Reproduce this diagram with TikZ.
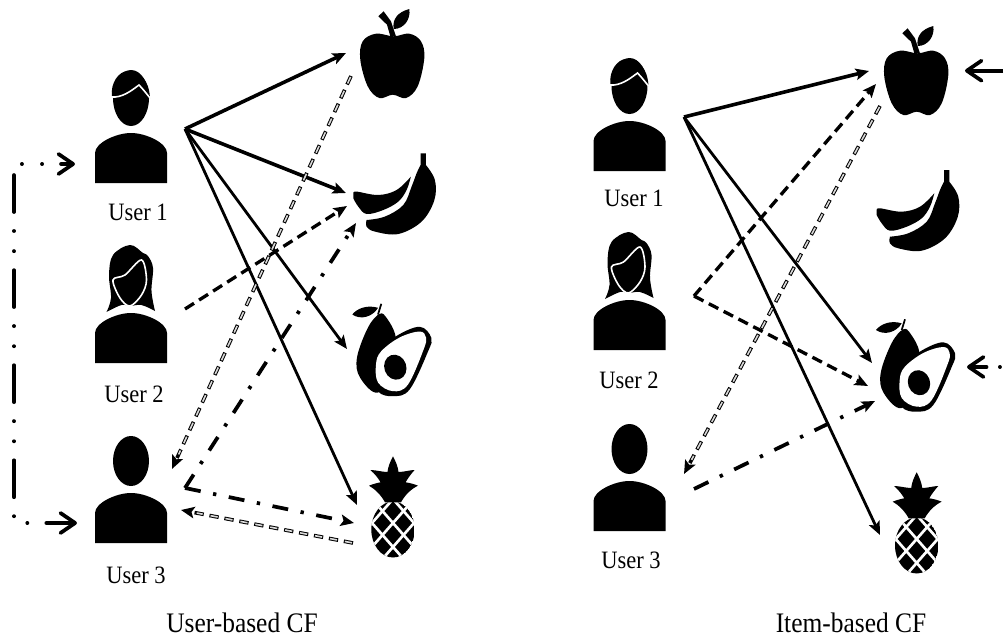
\documentclass[tikz,border=0pt]{standalone}
\usepackage{fontspec}
\setmainfont{Liberation Serif}
\newfontfamily\capfont[FakeStretch=0.9]{Liberation Serif}
\usetikzlibrary{arrows.meta}

\begin{document}
\begin{tikzpicture}[
  x=0.75pt, y=-0.75pt,
  userlabel/.style={anchor=base, inner sep=0pt, font=\capfont\fontsize{18.75}{20}\selectfont},
  caption/.style={anchor=base, inner sep=0pt, font=\capfont\fontsize{21.2}{24}\selectfont},
  solidtip/.style={-{Stealth[length=10pt,width=8.5pt,inset=2pt]}},
  thickarrow/.style={solidtip, line width=2.7pt},
  thinarrow/.style={solidtip, line width=2.1pt},
  dasharrow/.style={solidtip, line width=2.5pt, dash pattern=on 8pt off 4.5pt},
  dotarrow/.style={solidtip, line width=2.8pt, dash pattern=on 12pt off 9.5pt on 2.5pt off 9.5pt},
  hollowarrow/.style={preaction={draw=black, solidtip, line width=2.7pt, shorten >=0pt, dash pattern=on 7pt off 4.4pt, dash phase=0pt},
    draw=white!85!black, line width=1.2pt, shorten >=12pt, dash pattern=on 5.4pt off 6pt, dash phase=10.6pt},
  chevron/.style={-{Straight Barb[length=11pt,width=15pt,round]}, line width=2.8pt},
  loopline/.style={{Straight Barb[length=11pt,width=15pt,round]}-{Straight Barb[length=11pt,width=15pt,round]}, line width=2.8pt, line cap=round,
    dash pattern=on 27.7pt off 14.2pt on 0.1pt off 15pt on 0.1pt off 14.2pt, dash phase=7.5pt},
  usermale/.pic={
    \fill (-36,0) -- (-36,-30) .. controls (-36,-40) and (-15,-50) .. (0,-50) .. controls (15,-50) and (36,-40) .. (36,-30) -- (36,0) -- cycle;
    \fill (0,-85) ellipse [x radius=18, y radius=28];
    \fill (-19,-86) .. controls (-21,-100) and (-12,-112) .. (-3,-112) .. controls (8,-112) and (18,-104) .. (19,-85) -- cycle;
    \draw[white, line width=1.2pt] (-20,-86) .. controls (-9,-85) and (0,-92) .. (8,-98) .. controls (11,-95) and (15,-90) .. (19,-85);
  },
  userfemale/.pic={
    \fill (-36,0) -- (-36,-30) .. controls (-36,-40) and (-15,-50) .. (0,-50) .. controls (15,-50) and (36,-40) .. (36,-30) -- (36,0) -- cycle;
    \fill plot[smooth, tension=.6] coordinates {(-24.5,-51) (-20,-65) (-22,-88) (-18,-108) (-1,-118) (12,-110) (17,-107) (22,-95) (20.5,-72) (24,-52)}
      -- plot[smooth, tension=.6] coordinates {(24,-52) (10.5,-58) (-1,-57) (-9.5,-58) (-24.5,-51)} -- cycle;
    \draw[white, line width=1.2pt] plot[smooth cycle, tension=.55] coordinates {(-18,-83) (-6,-88) (10.5,-103) (15.5,-83) (10.5,-68) (-1,-57) (-11,-65)};
  },
  useranon/.pic={
    \fill (-36,0) -- (-36,-30) .. controls (-36,-40) and (-15,-50) .. (0,-50) .. controls (15,-50) and (36,-40) .. (36,-30) -- (36,0) -- cycle;
    \fill (0,-82) ellipse [x radius=18, y radius=25];
  },
  appleicon/.pic={
    \fill plot[smooth cycle, tension=.6] coordinates {(0.7,-60.7) (-17,-63.3) (-30.3,-55.7) (-32.7,-37.3) (-25.3,-10.7) (-13.7,1) (-0.3,-2.3) (13,1) (24.7,-10.7) (31.3,-39) (28,-55.7) (16.3,-63.3)};
    \fill (-14.7,-80.7) -- (-9.4,-85.7) -- (-2,-75.7) -- (3,-60.7) -- (-2.7,-60.7) -- (-6,-72.3) -- cycle;
    \fill (0.7,-68) .. controls (-1,-78) and (5,-85) .. (16.3,-88) .. controls (18,-78) and (11,-68) .. (0.7,-68) -- cycle;
  },
  bananaicon/.pic={
    \fill (27.3,-80) -- (32.6,-80) -- (32.6,-68.3) -- plot[smooth, tension=.6] coordinates {(32.6,-68.3) (41.6,-53.3) (41,-33) (28.3,-11.7) (5,0.7) (-18.4,-1.7) (-26.7,-6.7) (-26.7,-13.3)}
      -- plot[smooth, tension=.6] coordinates {(-26.7,-13.3) (-8.4,-16.7) (10,-28.3) (18.3,-46.7) (23.3,-60) (27.3,-68.3)} -- cycle;
    \fill plot[smooth, tension=.6] coordinates {(-40,-40) (-36.7,-41.7) (-15,-38.3) (3.3,-43.3) (17.6,-56.7)}
      -- plot[smooth, tension=.6] coordinates {(17.6,-56.7) (13.3,-43.3) (5,-31.7) (-10,-23.3) (-26.7,-19.3) (-35,-26.7) (-40,-35)} -- cycle;
  },
  avocadoicon/.pic={
    \fill plot[smooth cycle, tension=.6] coordinates {(-13.4,-80.7) (-25,-67) (-36,-37) (-33,-17) (-15,-2) (2,-30) (2.6,-58) (-6,-76)};
    \draw[line width=1.3pt] (-11.7,-90.7) -- (-15,-80);
    \fill (-40.7,-80) .. controls (-36,-86) and (-26,-90) .. (-15,-86.7) .. controls (-20,-78) and (-32,-74) .. (-40.7,-80) -- cycle;
    \fill plot[smooth cycle, tension=.6] coordinates {(26.6,-67.7) (38.3,-56.7) (35,-43) (16.6,-5) (0,1.7) (-15,-3) (-20.7,-21.7) (-18,-40) (2.6,-58)};
    \fill[white] plot[smooth cycle, tension=.6] coordinates {(26.6,-63) (33,-57) (30.6,-45) (15,-10) (0,-3.3) (-15,-12) (-17,-30) (-12,-43) (6.6,-57)};
    \fill[rotate around={20:(2.3,-27.3)}] (2.3,-27.3) ellipse [x radius=11, y radius=12.7];
  },
  pineappleicon/.pic={
    \begin{scope}
      \clip (0,-27.5) ellipse [x radius=21.7, y radius=28];
      \fill (0,-27.5) ellipse [x radius=21.7, y radius=28];
      \foreach \d in {-3,...,3} {
        \draw[white, line width=2pt] (21*\d-30,-34-34.2) -- (21*\d+30,-34+34.2);
        \draw[white, line width=2pt] (21*\d+30,-34-34.2) -- (21*\d-30,-34+34.2);
      }
    \end{scope}
    \fill (0,-100.7) .. controls (3,-95) and (5,-90) .. (5.5,-85) .. controls (11,-85) and (17,-87) .. (21.6,-87)
      .. controls (18,-83) and (15,-79) .. (12.6,-74.7) .. controls (17,-74) and (21,-73) .. (25,-71.3)
      .. controls (18,-68) and (12,-62) .. (8,-54.7) -- (-8,-54.7) .. controls (-12,-62) and (-18,-68) .. (-24,-71.3)
      .. controls (-20,-73) and (-16,-74) .. (-12.4,-74.7) .. controls (-15,-79) and (-18,-83) .. (-22.7,-87)
      .. controls (-17,-87) and (-11,-85) .. (-5.5,-85) .. controls (-5,-90) and (-3,-95) .. (0,-100.7) -- cycle;
  }
]
  % Users, left
  \pic (lu1) at (131,183) {usermale};
  \pic (lu2) at (131,363) {userfemale};
  \pic (lu3) at (131,543) {useranon};
  \node[userlabel] (lu1text) at (138,220.7) {User 1};
  \node[userlabel] (lu2text) at (134,402.7) {User 2};
  \node[userlabel] (lu3text) at (136,583) {User 3};

  % Items, left
  \pic (lapple) at (393,97) {appleicon};
  \pic (lbanana) at (393.3,233.3) {bananaicon};
  \pic (lavocado) at (393,394.5) {avocadoicon};
  \pic (lpine) at (393,557) {pineappleicon};
  \node[caption] (lcaption) at (242,632) {User-based CF};

  % Users, right
  \pic (ru1) at (629.5,171) {usermale};
  \pic (ru2) at (629.5,350) {userfemale};
  \pic (ru3) at (629.5,531) {useranon};
  \node[userlabel] (ru1text) at (634,206.7) {User 1};
  \node[userlabel] (ru2text) at (629,388) {User 2};
  \node[userlabel] (ru3text) at (631,568) {User 3};

  % Items, right
  \pic (rapple) at (917,114) {appleicon};
  \pic (rbanana) at (916.7,250) {bananaicon};
  \pic (ravocado) at (916.7,410) {avocadoicon};
  \pic (rpine) at (916.7,573) {pineappleicon};
  \node[caption] (rcaption) at (851,632) {Item-based CF};

  % Connector ends, left
  \coordinate (lu1out) at (185,129);
  \coordinate (lu2out) at (185,309);
  \coordinate (lu3corner) at (185,488);
  \coordinate (lu3in) at (172,469);
  \coordinate (lu3low) at (181,510);
  \coordinate (lappleIn) at (346,53);
  \coordinate (lappleOut) at (351,76);
  \coordinate (lbananaA) at (346,193);
  \coordinate (lbananaB) at (347,206);
  \coordinate (lbananaC) at (356,223);
  \coordinate (lavocadoIn) at (347,349);
  \coordinate (lpineA) at (357,505);
  \coordinate (lpineB) at (354,523);
  \coordinate (lpineOut) at (353,543);
  \coordinate (loopTop) at (75,164);
  \coordinate (loopBottom) at (77,523);

  % Connector ends, right
  \coordinate (ru1out) at (684,117);
  \coordinate (ru2corner) at (694,296);
  \coordinate (ru3out) at (694,489);
  \coordinate (ru3in) at (684,474);
  \coordinate (rappleA) at (869,71);
  \coordinate (rappleB) at (876,84);
  \coordinate (rappleOut) at (880,106);
  \coordinate (ravocadoA) at (872,363);
  \coordinate (ravocadoB) at (868,386);
  \coordinate (ravocadoC) at (875,401);
  \coordinate (rpineIn) at (880,535);
  \coordinate (rappleTail) at (1003,70.7);
  \coordinate (rappleTip) at (965,70.7);
  \coordinate (ravoTail) at (1000,367);
  \coordinate (ravoTip) at (967,367);

  % Left arrows
  \draw[thickarrow] (lu1out) -- (lappleIn);
  \draw[thickarrow] (lu1out) -- (lbananaA);
  \draw[thinarrow] (lu1out) -- (lavocadoIn);
  \draw[thinarrow] (lu1out) -- (lpineA);
  \draw[dasharrow] (lu2out) -- (lbananaB);
  \draw[dotarrow] (lu3corner) -- (lbananaC);
  \draw[dotarrow] (lu3corner) -- (lpineB);
  \draw[hollowarrow] (lappleOut) -- (lu3in);
  \draw[hollowarrow] (lpineOut) -- (lu3low);
  \draw[loopline] (loopBottom) -- (14,523) -- (14,164) -- (loopTop);

  % Right arrows
  \draw[thickarrow] (ru1out) -- (rappleA);
  \draw[thinarrow] (ru1out) -- (ravocadoA);
  \draw[thinarrow] (ru1out) -- (rpineIn);
  \draw[dasharrow] (ru2corner) -- (rappleB);
  \draw[dasharrow] (ru2corner) -- (ravocadoB);
  \draw[dotarrow] (ru3out) -- (ravocadoC);
  \draw[hollowarrow] (rappleOut) -- (ru3in);
  \draw[chevron] (rappleTail) -- (rappleTip);
  \draw[chevron, line cap=round, dash pattern=on 0.1pt off 10pt on 30pt off 0pt] (ravoTail) -- (ravoTip);

  \useasboundingbox (0,0) rectangle (1008,639);
\end{tikzpicture}
\end{document}
